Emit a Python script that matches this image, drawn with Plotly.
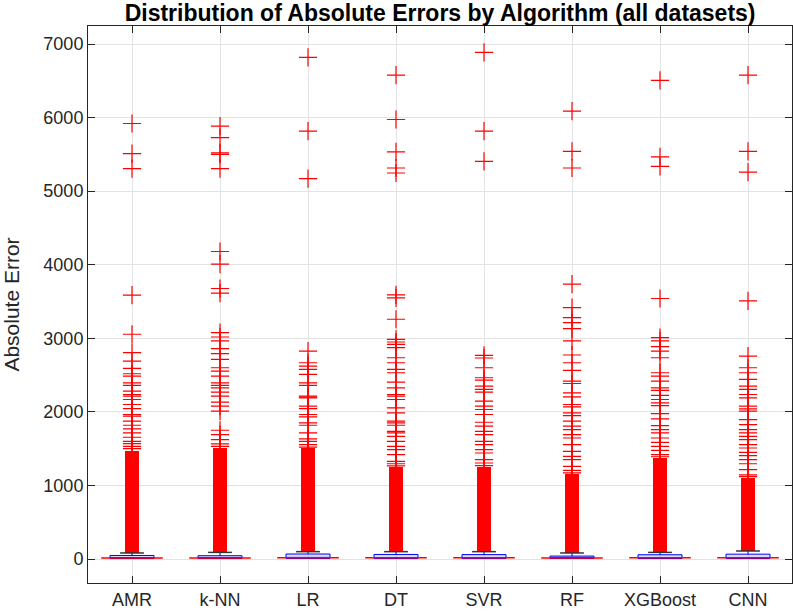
import plotly.graph_objects as go

algorithms = ["AMR", "k-NN", "LR", "DT", "SVR", "RF", "XGBoost", "CNN"]

# box statistics
q1_vals = [6, 6, 8, 6, 6, 8, 6, 6]
median_vals = [15, 15, 18, 18, 18, 15, 18, 18]
q3_vals = [48, 45, 68, 62, 60, 40, 58, 66]
lower_whisker = [0, 0, 0, 0, 0, 0, 0, 0]
upper_whisker = [82, 90, 100, 100, 100, 82, 90, 109]

# range where the outlier crosses overlap into a solid column
dense_low = [82, 90, 100, 100, 100, 82, 90, 109]
dense_top = [1475, 1510, 1505, 1250, 1250, 1150, 1370, 1100]

# individual (separable) outliers
out_AMR = [5920, 5510, 5307, 3586, 3055, 2805, 2691, 2591, 2518, 2486, 2395, 2359, 2282,
           2236, 2214, 2168, 2100, 2045, 1964, 1941, 1873, 1818, 1768, 1714, 1655, 1600,
           1568, 1532, 1500]
out_kNN = [5883, 5729, 5520, 5500, 5307, 4180, 4009, 3677, 3614, 3077, 3018, 2964, 2859,
           2791, 2714, 2600, 2555, 2486, 2395, 2359, 2327, 2268, 2214, 2132, 2077, 2010,
           1750, 1691, 1623, 1564, 1530]
out_LR = [6819, 5815, 5170, 2827, 2668, 2623, 2577, 2509, 2395, 2359, 2214, 2200, 2191,
          2077, 2045, 1964, 1932, 1850, 1818, 1714, 1632, 1600, 1555, 1520]
out_DT = [6578, 5974, 5533, 5315, 5247, 3590, 3550, 3259, 2986, 2950, 2918, 2873, 2736,
          2668, 2577, 2532, 2405, 2327, 2236, 2214, 2168, 2055, 1986, 1873, 1850, 1818,
          1736, 1714, 1668, 1600, 1532, 1486, 1418, 1327, 1295, 1265]
out_SVR = [6886, 5815, 5406, 2768, 2732, 2600, 2464, 2432, 2350, 2305, 2268, 2145, 2077,
           2032, 1964, 1859, 1805, 1736, 1691, 1600, 1555, 1486, 1441, 1350, 1305, 1270]
out_RF = [6087, 5542, 5315, 3736, 3418, 3282, 3214, 3132, 2964, 2773, 2668, 2564, 2418,
          2386, 2259, 2205, 2100, 2068, 1986, 1950, 1873, 1805, 1759, 1691, 1645, 1555,
          1464, 1395, 1350, 1259, 1205, 1170]
out_XGB = [6505, 5465, 5338, 3541, 3009, 2964, 2886, 2827, 2736, 2532, 2486, 2418, 2327,
           2291, 2223, 2168, 2123, 2086, 1977, 1905, 1814, 1759, 1714, 1645, 1586, 1532,
           1477, 1418, 1390]
out_CNN = [6578, 5542, 5260, 3509, 2759, 2600, 2532, 2441, 2350, 2305, 2236, 2191, 2077,
           2041, 2009, 1896, 1827, 1759, 1714, 1668, 1623, 1555, 1509, 1450, 1405, 1350,
           1295, 1214, 1145, 1120]

outliers = [out_AMR, out_kNN, out_LR, out_DT, out_SVR, out_RF, out_XGB, out_CNN]

yticks = [0, 1000, 2000, 3000, 4000, 5000, 6000, 7000]

FONT = "Liberation Sans"
AX = "#262626"

fig = go.Figure()

# dense outlier columns
fig.add_trace(go.Bar(
    x=algorithms,
    y=[t - b for t, b in zip(dense_top, dense_low)],
    base=dense_low,
    width=0.15,
    marker=dict(color="#ff0000", line=dict(width=0)),
    hoverinfo="skip", showlegend=False,
))

# boxes
fig.add_trace(go.Box(
    x=algorithms,
    q1=q1_vals, median=median_vals, q3=q3_vals,
    lowerfence=lower_whisker, upperfence=upper_whisker,
    width=0.5, whiskerwidth=0.0,
    line=dict(color="#0000ff", width=1),
    fillcolor="rgba(140,140,255,0.3)",
    showlegend=False,
))

# outliers as crosses
ox, oy = [], []
for name, vals in zip(algorithms, outliers):
    ox += [name] * len(vals)
    oy += vals
fig.add_trace(go.Scatter(
    x=ox, y=oy, mode="markers",
    marker=dict(symbol="cross-thin", size=13, color="#ff0000",
                line=dict(color="#ff0000", width=1.2)),
    showlegend=False, hoverinfo="y",
))

# medians (red)
fig.add_trace(go.Scatter(
    x=algorithms, y=median_vals, mode="markers",
    marker=dict(symbol="line-ew", size=44, color="#ff0000",
                line=dict(color="#ff0000", width=1.5)),
    showlegend=False, hoverinfo="skip",
))

# whisker caps (black)
fig.add_trace(go.Scatter(
    x=algorithms, y=upper_whisker, mode="markers",
    marker=dict(symbol="line-ew", size=17, color="#333333",
                line=dict(color="#333333", width=1.5)),
    showlegend=False, hoverinfo="skip",
))

fig.update_layout(
    width=793, height=616,
    margin=dict(l=88, r=1, t=26, b=33),
    paper_bgcolor="white", plot_bgcolor="white",
    bargap=0,
    title=dict(text="<b>Distribution of Absolute Errors by Algorithm (all datasets)</b>",
               x=0.555, xanchor="center",
               y=1 - 13 / 616, yanchor="middle",
               font=dict(family=FONT, size=23, color="#000000")),
    font=dict(family=FONT, color=AX),
)

fig.update_xaxes(
    type="category", categoryorder="array", categoryarray=algorithms,
    range=[-0.5, 7.5],
    showline=True, linecolor=AX, linewidth=1, mirror="ticks",
    ticks="inside", ticklen=7, tickcolor=AX,
    showgrid=True, gridcolor="#e3e3e3", gridwidth=1,
    tickfont=dict(family=FONT, size=18, color=AX),
    zeroline=False,
)
fig.update_yaxes(
    range=[-326, 7245],
    tickvals=yticks, ticktext=[str(v) for v in yticks],
    showline=True, linecolor=AX, linewidth=1, mirror="ticks",
    ticks="inside", ticklen=7, tickcolor=AX,
    showgrid=True, gridcolor="#e3e3e3", gridwidth=1,
    tickfont=dict(family=FONT, size=18, color=AX),
    zeroline=False,
    title=dict(text="Absolute Error", font=dict(family=FONT, size=21, color=AX), standoff=19),
)

fig.write_html("out.html")
